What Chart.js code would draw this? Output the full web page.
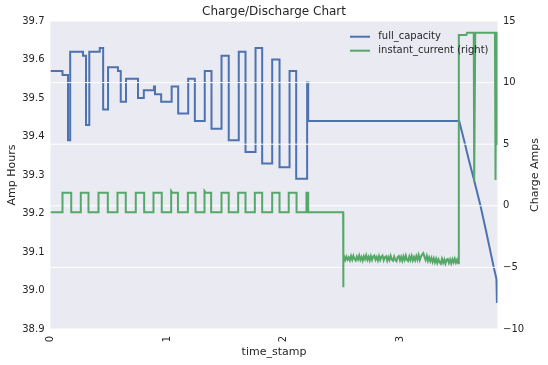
<!DOCTYPE html>
<html><head><meta charset="utf-8">
<script src="https://cdn.jsdelivr.net/npm/chart.js@4.4.0/dist/chart.umd.min.js"></script>
<style>html,body{margin:0;padding:0;background:#fff;}#wrap{width:548px;height:365px;}</style>
</head><body><div id="wrap"><canvas id="c" width="548" height="365"></canvas></div>
<script>
const chartTitle = "Charge/Discharge Chart";
const xTitle = "time_stamp";
const leftTitle = "Amp Hours";
const rightTitle = "Charge Amps";
const seriesNames = ["full_capacity", "instant_current (right)"];
const xTicks = [0, 1, 2, 3];
const leftTicks = [38.9, 39.0, 39.1, 39.2, 39.3, 39.4, 39.5, 39.6, 39.7];
const rightTicks = [-10, -5, 0, 5, 10, 15];

// full_capacity (Amp Hours)
const fcTime = [0, 0.103,0.103, 0.150,0.150, 0.169,0.169, 0.279,0.279, 0.305,0.305, 0.333,0.333, 0.423,0.423,
  0.452,0.452, 0.494,0.494, 0.579,0.579, 0.603,0.603, 0.648,0.648, 0.751,0.751, 0.801,0.801, 0.888,0.888,
  0.897,0.897, 0.950,0.950, 1.040,1.040, 1.096,1.096, 1.182,1.182, 1.239,1.239, 1.324,1.324, 1.382,1.382,
  1.468,1.468, 1.530,1.530, 1.616,1.616, 1.674,1.674, 1.760,1.760, 1.817,1.817, 1.903,1.903, 1.966,1.966,
  2.052,2.052, 2.109,2.109, 2.203,2.203, 2.212,2.212,
  3.508, 3.55, 3.59, 3.633, 3.691, 3.742, 3.805, 3.828, 3.832, 3.837];
const fcValue = [39.57, 39.57,39.56, 39.56,39.39, 39.39,39.62, 39.62,39.61, 39.61,39.43, 39.43,39.62, 39.62,39.63,
  39.63,39.47, 39.47,39.58, 39.58,39.57, 39.57,39.49, 39.49,39.55, 39.55,39.50, 39.50,39.52, 39.52,39.53,
  39.53,39.51, 39.51,39.49, 39.49,39.53, 39.53,39.46, 39.46,39.55, 39.55,39.44, 39.44,39.57, 39.57,39.42,
  39.42,39.61, 39.61,39.39, 39.39,39.62, 39.62,39.36, 39.36,39.63, 39.63,39.33, 39.33,39.60, 39.60,39.32,
  39.32,39.57, 39.57,39.29, 39.29,39.54, 39.54,39.44,
  39.44, 39.39, 39.34, 39.29, 39.22, 39.15, 39.06, 39.03, 38.97, 38.97];

// instant_current (Charge Amps): pulse phase
const pulseTime = [0,
  0.103,0.103,0.178,0.178, 0.260,0.260,0.326,0.326, 0.412,0.412,0.492,0.492,
  0.575,0.575,0.646,0.646, 0.732,0.732,0.804,0.804, 0.884,0.884,0.955,0.955,
  1.036,1.036,1.046,1.094,1.094, 1.179,1.179,1.245,1.245, 1.322,1.322,1.332,1.379,1.379,
  1.468,1.468,1.530,1.530, 1.611,1.611,1.674,1.674, 1.754,1.754,1.817,1.817,
  1.903,1.903,1.966,1.966, 2.045,2.045,2.112,2.112, 2.197,2.197,2.212,2.212,
  2.512];
const pulseValue = [-0.53,
  -0.53,1.06,1.06,-0.53, -0.53,1.06,1.06,-0.53, -0.53,1.06,1.06,-0.53,
  -0.53,1.06,1.06,-0.53, -0.53,1.06,1.06,-0.53, -0.53,1.06,1.06,-0.53,
  -0.53,1.2,1.06,1.06,-0.53, -0.53,1.06,1.06,-0.53, -0.53,1.2,1.06,1.06,-0.53,
  -0.53,1.06,1.06,-0.53, -0.53,1.06,1.06,-0.53, -0.53,1.06,1.06,-0.53,
  -0.53,1.06,1.06,-0.53, -0.53,1.06,1.06,-0.53, -0.53,1.06,1.06,-0.53,
  -0.53];
// discharge phase
const noiseTime = [2.512, 2.516,
  2.52,2.53,2.54,2.55,2.56,2.57,2.58,2.59,2.60,2.61,
  2.62,2.63,2.64,2.65,2.66,2.67,2.68,2.69,2.70,2.71,
  2.72,2.73,2.74,2.75,2.76,2.77,2.78,2.79,2.80,2.81,
  2.82,2.83,2.84,2.85,2.86,2.87,2.88,2.89,2.90,2.91,
  2.92,2.93,2.94,2.95,2.96,2.97,2.98,2.99,3.00,3.01,
  3.02,3.03,3.04,3.05,3.06,3.07,3.08,3.09,3.10,3.11,
  3.12,3.13,3.14,3.15,3.16,3.17,3.18,3.19,3.20,3.21,
  3.22,3.23,3.24,3.25,3.26,3.27,3.28,3.29,3.30,3.31,
  3.32,3.33,3.34,3.35,3.36,3.37,3.38,3.39,3.40,3.41,
  3.42,3.43,3.44,3.45,3.46,3.47,3.48,3.49,3.50,
  3.505];
const noiseValue = [-6.62, -4.2,
  -4.10,-4.40,-4.12,-4.36,-4.18,-4.42,-4.08,-4.38,-4.06,-4.32,
  -4.44,-4.12,-4.36,-4.04,-4.40,-4.16,-4.46,-4.10,-4.34,-4.02,
  -4.38,-4.14,-4.44,-4.08,-4.40,-4.12,-4.04,-4.38,-4.16,-4.44,
  -4.08,-4.40,-4.14,-4.04,-4.42,-4.18,-4.10,-4.46,-4.16,-4.40,
  -4.06,-4.36,-4.46,-4.12,-4.40,-4.50,-4.16,-4.08,-4.42,-4.14,
  -4.46,-4.10,-4.40,-4.04,-4.38,-4.48,-4.12,-4.40,-4.06,-4.44,
  -4.16,-4.42,-4.08,-4.38,-4.00,-4.40,-4.12,-3.96,-3.84,-4.14,
  -4.40,-4.06,-4.46,-4.18,-4.50,-4.22,-4.56,-4.26,-4.60,-4.30,
  -4.64,-4.34,-4.58,-4.70,-4.30,-4.62,-4.36,-4.70,-4.38,-4.32,
  -4.64,-4.36,-4.68,-4.34,-4.60,-4.30,-4.62,-4.38,-4.66,
  -4.55];
// charge phase
const endTime = [3.505, 3.57, 3.576, 3.633, 3.637, 3.646, 3.815, 3.820, 3.826, 3.833, 3.837];
const endValue = [13.86, 13.86, 14.04, 14.04, 1.95, 14.04, 14.04, 2.09, 14.04, 14.04, 4.93];

const icTime = [...pulseTime, ...noiseTime, ...endTime];
const icValue = [...pulseValue, ...noiseValue, ...endValue];

const TEXT = '#262626';
const FONT = "'DejaVu Sans', sans-serif";
Chart.defaults.font.family = FONT;
Chart.defaults.color = TEXT;

const bgPlugin = {
  id: 'bg',
  beforeDraw(chart) {
    const {ctx, chartArea: a} = chart;
    ctx.save();
    ctx.fillStyle = '#EAEAF2';
    ctx.fillRect(a.left, a.top, a.right - a.left, a.bottom - a.top);
    ctx.restore();
  }
};
const gridPlugin = {
  id: 'grid2',
  afterDatasetDraw(chart, args) {
    if (args.index !== 0) return;
    const s = chart.scales.y1, a = chart.chartArea, ctx = chart.ctx;
    ctx.save();
    ctx.strokeStyle = '#ffffff';
    ctx.lineWidth = 1;
    rightTicks.forEach(v => {
      const y = s.getPixelForValue(v);
      ctx.beginPath(); ctx.moveTo(a.left, y); ctx.lineTo(a.right, y); ctx.stroke();
    });
    ctx.restore();
  }
};
const legendPlugin = {
  id: 'legendInside',
  afterDraw(chart) {
    const {ctx, chartArea: a} = chart;
    ctx.save();
    chart.data.datasets.forEach((ds, i) => {
      const y = a.top + 15.7 + i * 14;
      ctx.strokeStyle = ds.borderColor; ctx.lineWidth = ds.borderWidth;
      ctx.beginPath(); ctx.moveTo(a.right - 147.5, y); ctx.lineTo(a.right - 127.5, y); ctx.stroke();
      ctx.fillStyle = TEXT; ctx.font = "10px " + FONT;
      ctx.textBaseline = 'middle'; ctx.textAlign = 'left';
      ctx.fillText(ds.label, a.right - 119.2, y);
    });
    // right axis title, reading bottom-to-top
    ctx.translate(535.5, (a.top + a.bottom) / 2);
    ctx.rotate(-Math.PI / 2);
    ctx.font = "11px " + FONT; ctx.fillStyle = TEXT;
    ctx.textAlign = 'center'; ctx.textBaseline = 'middle';
    ctx.fillText(rightTitle, 0, 0);
    ctx.restore();
  }
};

const minus = v => v < 0 ? '\u2212' + Math.abs(v) : String(v);

new Chart(document.getElementById('c'), {
  type: 'line',
  data: {
    datasets: [
      { label: seriesNames[0], data: fcTime.map((t, i) => ({x: t, y: fcValue[i]})),
        borderColor: '#4C72B0', borderWidth: 2, pointRadius: 0, tension: 0, fill: false,
        yAxisID: 'y', order: 2 },
      { label: seriesNames[1], data: icTime.map((t, i) => ({x: t, y: icValue[i]})),
        borderColor: '#55A868', borderWidth: 2, pointRadius: 0, tension: 0, fill: false,
        yAxisID: 'y1', order: 1 }
    ]
  },
  options: {
    responsive: false, animation: false, devicePixelRatio: 1,
    layout: { padding: 0 },
    plugins: {
      legend: { display: false }, tooltip: { enabled: false },
      title: { display: true, text: chartTitle, color: TEXT, font: { family: FONT, size: 12, weight: 'normal' },
               padding: { top: 5.1, bottom: 1.5 } }
    },
    scales: {
      x: {
        type: 'linear', min: 0, max: 3.837,
        grid: { display: false, drawTicks: false }, border: { display: false },
        ticks: { autoSkip: false, includeBounds: false, minRotation: 90, maxRotation: 90, padding: 7,
                 color: TEXT, font: { size: 10 }, callback: v => String(v) },
        afterBuildTicks: s => { s.ticks = xTicks.map(v => ({value: v})); },
        afterFit: s => { s.height = 36; s.paddingLeft = 0; s.paddingRight = 0; },
        title: { display: true, text: xTitle, color: TEXT, font: { size: 11 }, padding: { top: 0, bottom: 6.4 } }
      },
      y: {
        type: 'linear', position: 'left', min: 38.9, max: 39.7,
        grid: { display: false, drawTicks: false }, border: { display: false },
        ticks: { padding: 6, color: TEXT, font: { size: 10 }, callback: v => Number(v).toFixed(1) },
        afterBuildTicks: s => { s.ticks = leftTicks.map(v => ({value: v})); },
        afterFit: s => { s.width = 50.5; s.paddingTop = 0; s.paddingBottom = 0; },
        title: { display: true, text: leftTitle, color: TEXT, font: { size: 11 }, padding: { top: 5.4, bottom: 0 } }
      },
      y1: {
        type: 'linear', position: 'right', min: -10, max: 15,
        grid: { display: false, drawTicks: false }, border: { display: false },
        ticks: { padding: 5.5, color: TEXT, font: { size: 10 }, callback: v => minus(v) },
        afterBuildTicks: s => { s.ticks = rightTicks.map(v => ({value: v})); },
        afterFit: s => { s.width = 50.5; s.paddingTop = 0; s.paddingBottom = 0; }
      }
    }
  },
  plugins: [bgPlugin, gridPlugin, legendPlugin]
});
</script>
</body></html>
